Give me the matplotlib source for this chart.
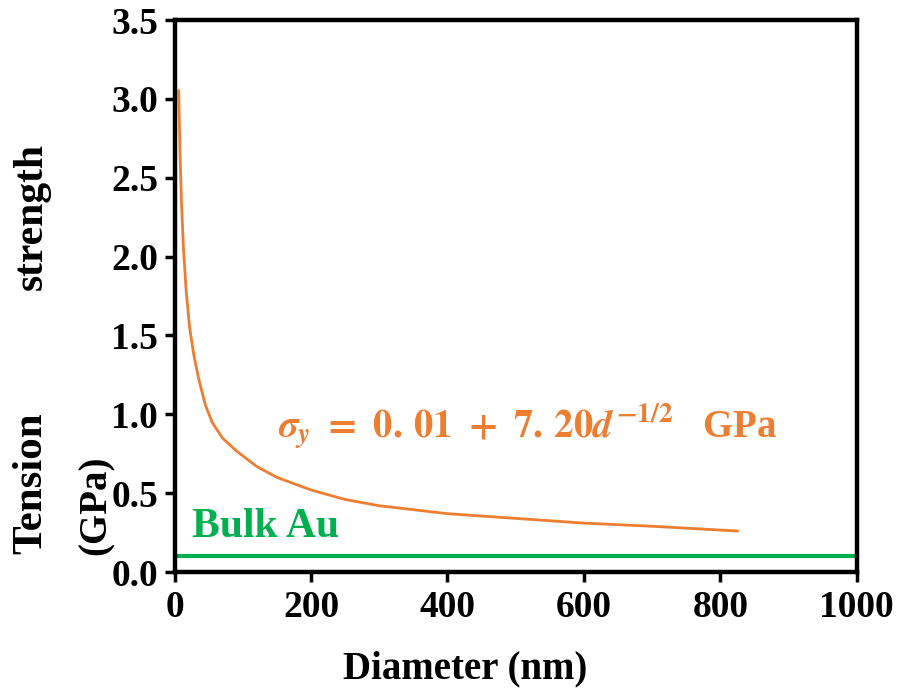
import matplotlib
matplotlib.use("Agg")
import matplotlib.pyplot as plt

# Wartości
diameter_nm = [6, 8, 10, 13, 17, 22, 28, 35, 45, 55, 70, 90, 120, 150, 200, 250,
               300, 400, 500, 600, 700, 825]
strength_gpa = [3.05, 2.65, 2.35, 2.05, 1.78, 1.55, 1.38, 1.23, 1.06, 0.95, 0.85,
                0.77, 0.67, 0.60, 0.52, 0.46, 0.42, 0.37, 0.34, 0.31, 0.29, 0.26]
bulk_x = [0, 1000]
bulk_y = [0.10, 0.10]

x_ticks = [0, 200, 400, 600, 800, 1000]
y_ticks = [0.0, 0.5, 1.0, 1.5, 2.0, 2.5, 3.0, 3.5]

ORANGE = "#ED7D31"
GREEN = "#00B050"

plt.rcParams.update(
    {
        "font.family": "serif",
        "font.serif": ["Liberation Serif", "DejaVu Serif"],
        "font.weight": "bold",
        "mathtext.fontset": "stix",
    }
)

fig = plt.figure(figsize=(9, 6.9), dpi=100)
ax = fig.add_axes([0.194, 0.171, 0.758, 0.800])

ax.plot(diameter_nm, strength_gpa, color=ORANGE, linewidth=2)
ax.plot(bulk_x, bulk_y, color=GREEN, linewidth=3)

ax.set_xlim(0, 1000)
ax.set_ylim(0, 3.5)
ax.set_xticks(x_ticks)
ax.set_yticks(y_ticks)
ax.set_yticklabels([f"{v:.1f}" for v in y_ticks])

for s in ax.spines.values():
    s.set_linewidth(3.2)
ax.tick_params(width=2.5, length=7, labelsize=27)
ax.tick_params(axis="x", pad=6)
ax.tick_params(axis="y", pad=5)
for lab in ax.get_xticklabels() + ax.get_yticklabels():
    lab.set_fontweight("bold")

# podpis osi X
fig.text(465 / 900, 1 - 678 / 690, "Diameter (nm)", fontsize=28,
         fontweight="bold", ha="center", va="baseline")

# rozbity podpis osi Y jak w oryginale
fig.text(32 / 900, 1 - 216 / 690, "strength", rotation=90, fontsize=30,
         fontweight="bold", ha="center", va="center")
fig.text(31 / 900, 1 - 483 / 690, "Tension", rotation=90, fontsize=31,
         fontweight="bold", ha="center", va="center")
fig.text(96 / 900, 1 - 505 / 690, "(GPa)", rotation=90, fontsize=28,
         fontweight="bold", ha="center", va="center")

ax.text(25, 0.22, "Bulk Au", color=GREEN, fontsize=30, fontweight="bold",
        va="baseline", ha="left")
ax.text(151, 0.855,
        r"$\boldsymbol{\sigma_y\ =\ 0.\,01\ +\ 7.\,20d^{-1/2}}$   GPa",
        color=ORANGE, fontsize=28, fontweight="bold", va="baseline", ha="left")

fig.savefig("out.png", dpi=100)
